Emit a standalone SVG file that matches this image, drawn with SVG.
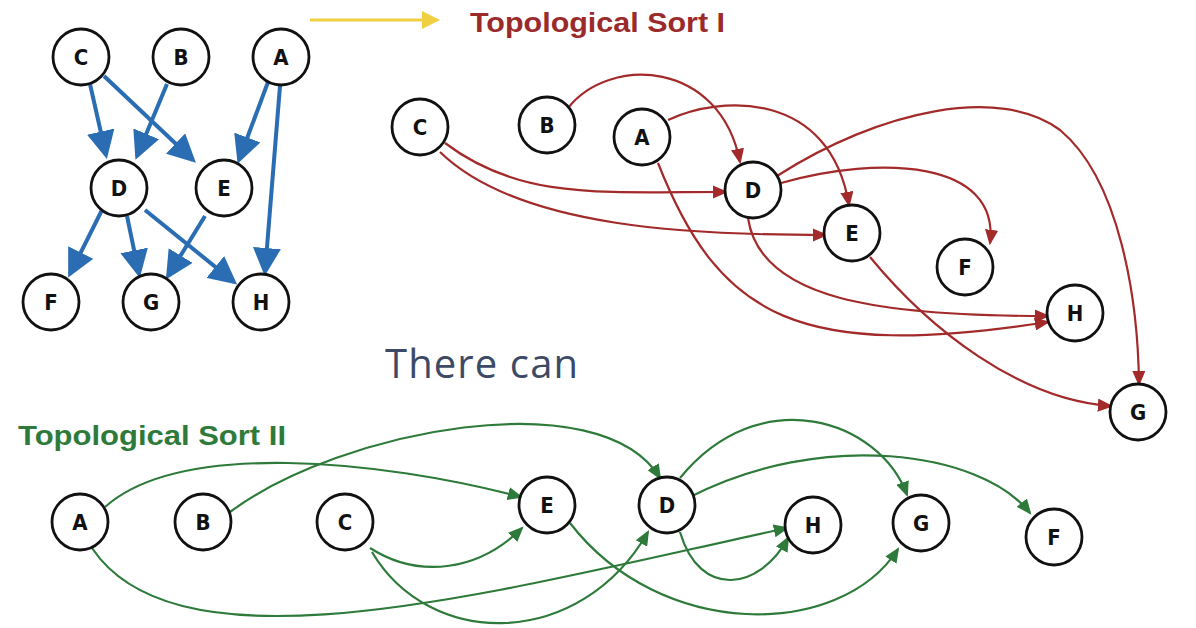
<svg xmlns="http://www.w3.org/2000/svg" width="1196" height="628" viewBox="0 0 1196 628">
<style>
.n circle{fill:#fff;stroke:#111;stroke-width:2.8}
.n text{font-family:"DejaVu Sans Condensed","DejaVu Sans",sans-serif;font-weight:bold;font-size:22px;fill:#111;text-anchor:middle}
.b{stroke:#2a6db3;stroke-width:4;fill:none;marker-end:url(#mb)}
.r{stroke:#a32a2a;stroke-width:2.2;fill:none;marker-end:url(#mr)}
.g{stroke:#2e7a3a;stroke-width:2.2;fill:none;marker-end:url(#mg)}
</style>
<defs>
<marker id="mb" markerWidth="7" markerHeight="7" refX="6" refY="3.5" orient="auto" markerUnits="strokeWidth"><path d="M0,0L7,3.5L0,7z" fill="#2a6db3"/></marker>
<marker id="mr" markerWidth="7" markerHeight="6" refX="6" refY="3" orient="auto" markerUnits="strokeWidth"><path d="M0,0L7,3L0,6z" fill="#a32a2a"/></marker>
<marker id="mg" markerWidth="7" markerHeight="6" refX="6" refY="3" orient="auto" markerUnits="strokeWidth"><path d="M0,0L7,3L0,6z" fill="#2e7a3a"/></marker>
<marker id="my" markerWidth="6" markerHeight="6" refX="5" refY="3" orient="auto" markerUnits="strokeWidth"><path d="M0,0L6,3L0,6z" fill="#f0d040"/></marker>
</defs>
<rect width="1196" height="628" fill="#fff"/>
<g id="labels">
<text x="470" y="32" font-family="Liberation Sans,Arial,sans-serif" font-weight="bold" font-size="28" fill="#9b2a2a" textLength="255" lengthAdjust="spacingAndGlyphs">Topological Sort I</text>
<text x="385" y="378" font-family="Open Sans,Liberation Sans,sans-serif" font-size="40" fill="#3d4a66" textLength="193">There can</text>
<text x="18" y="445" font-family="Liberation Sans,Arial,sans-serif" font-weight="bold" font-size="28" fill="#2e7a3a" textLength="268" lengthAdjust="spacingAndGlyphs">Topological Sort II</text>
</g>
<g id="connectors">
<line x1="310" y1="20" x2="437" y2="20" stroke="#f0d040" stroke-width="3" marker-end="url(#my)"/>
<line class="b" x1="90" y1="84" x2="106" y2="155"/>
<line class="b" x1="104" y1="76" x2="193" y2="160"/>
<line class="b" x1="167" y1="84" x2="137" y2="156"/>
<line class="b" x1="268" y1="82" x2="239" y2="160"/>
<line class="b" x1="280" y1="86" x2="265" y2="272"/>
<line class="b" x1="102" y1="210" x2="70" y2="274"/>
<line class="b" x1="127" y1="216" x2="139" y2="274"/>
<line class="b" x1="145" y1="210" x2="234" y2="282"/>
<line class="b" x1="205" y1="216" x2="168" y2="276"/>
<path class="r" d="M445,143 C520,200 600,192 726,192"/>
<path class="r" d="M440,152 C520,230 700,235 826,235"/>
<path class="r" d="M568,108 C610,55 720,60 740,162"/>
<path class="r" d="M668,120 C720,95 830,90 849,205"/>
<path class="r" d="M658,163 C720,320 800,360 1048,322"/>
<path class="r" d="M777,176 C880,110 1000,85 1060,130 C1120,180 1138,300 1139,384"/>
<path class="r" d="M781,183 C880,155 1000,160 990,243"/>
<path class="r" d="M748,218 C760,300 880,316 1048,316"/>
<path class="r" d="M870,257 C930,330 1020,400 1111,406"/>
<path class="g" d="M105,507 C180,440 380,460 521,497"/>
<path class="g" d="M230,512 C340,430 600,380 660,478"/>
<path class="g" d="M92,548 C180,680 500,590 787,528"/>
<path class="g" d="M370,548 C420,580 480,570 522,528"/>
<path class="g" d="M372,552 C430,650 580,650 648,532"/>
<path class="g" d="M570,523 C660,640 840,640 898,549"/>
<path class="g" d="M680,478 C760,380 880,420 907,495"/>
<path class="g" d="M690,497 C820,430 980,450 1030,513"/>
<path class="g" d="M680,532 C700,600 760,590 788,538"/>
</g>
<g id="blue-C" class="n"><circle cx="81" cy="57" r="28"/><text x="81" y="65">C</text></g>
<g id="blue-B" class="n"><circle cx="181" cy="57" r="28"/><text x="181" y="65">B</text></g>
<g id="blue-A" class="n"><circle cx="281" cy="57" r="28"/><text x="281" y="65">A</text></g>
<g id="blue-D" class="n"><circle cx="119" cy="188" r="28"/><text x="119" y="196">D</text></g>
<g id="blue-E" class="n"><circle cx="224" cy="188" r="28"/><text x="224" y="196">E</text></g>
<g id="blue-F" class="n"><circle cx="51" cy="302" r="28"/><text x="51" y="310">F</text></g>
<g id="blue-G" class="n"><circle cx="151" cy="302" r="28"/><text x="151" y="310">G</text></g>
<g id="blue-H" class="n"><circle cx="261" cy="302" r="28"/><text x="261" y="310">H</text></g>
<g id="red-C" class="n"><circle cx="420" cy="127" r="28"/><text x="420" y="135">C</text></g>
<g id="red-B" class="n"><circle cx="547" cy="125" r="28"/><text x="547" y="133">B</text></g>
<g id="red-A" class="n"><circle cx="642" cy="137" r="28"/><text x="642" y="145">A</text></g>
<g id="red-D" class="n"><circle cx="753" cy="190" r="28"/><text x="753" y="198">D</text></g>
<g id="red-E" class="n"><circle cx="852" cy="233" r="28"/><text x="852" y="241">E</text></g>
<g id="red-F" class="n"><circle cx="965" cy="267" r="28"/><text x="965" y="275">F</text></g>
<g id="red-H" class="n"><circle cx="1075" cy="313" r="28"/><text x="1075" y="321">H</text></g>
<g id="red-G" class="n"><circle cx="1138" cy="412" r="28"/><text x="1138" y="420">G</text></g>
<g id="green-A" class="n"><circle cx="80" cy="522" r="28"/><text x="80" y="530">A</text></g>
<g id="green-B" class="n"><circle cx="203" cy="522" r="28"/><text x="203" y="530">B</text></g>
<g id="green-C" class="n"><circle cx="345" cy="522" r="28"/><text x="345" y="530">C</text></g>
<g id="green-E" class="n"><circle cx="547" cy="505" r="28"/><text x="547" y="513">E</text></g>
<g id="green-D" class="n"><circle cx="667" cy="505" r="28"/><text x="667" y="513">D</text></g>
<g id="green-H" class="n"><circle cx="813" cy="525" r="28"/><text x="813" y="533">H</text></g>
<g id="green-G" class="n"><circle cx="921" cy="523" r="28"/><text x="921" y="531">G</text></g>
<g id="green-F" class="n"><circle cx="1054" cy="537" r="28"/><text x="1054" y="545">F</text></g>
</svg>
